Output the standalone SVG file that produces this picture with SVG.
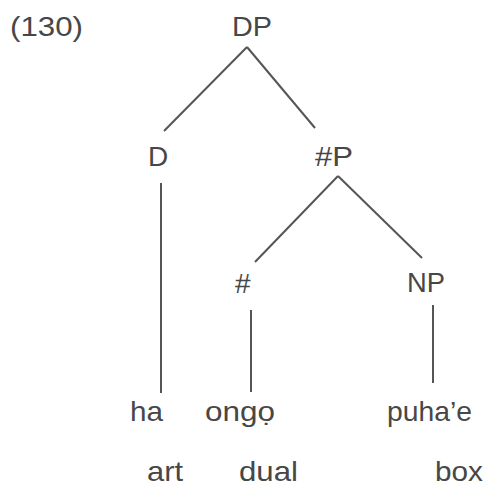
<svg xmlns="http://www.w3.org/2000/svg" width="485" height="488" viewBox="0 0 485 488">
<style>
text { font-family: "Liberation Sans", Arial, sans-serif; font-size: 28px; fill: #474747; }
.edge { stroke: #555555; stroke-width: 2; fill: none; stroke-linecap: butt; }
</style>
<rect width="485" height="488" fill="#ffffff"/>
<text id="label" x="10" y="36" textLength="73" lengthAdjust="spacingAndGlyphs">(130)</text>
<g id="connectors">
  <line class="edge" x1="247" y1="47" x2="164" y2="131"/>
  <line class="edge" x1="247" y1="47" x2="315" y2="128"/>
  <line class="edge" x1="338" y1="176" x2="255" y2="262"/>
  <line class="edge" x1="338" y1="176" x2="422" y2="258"/>
  <line class="edge" x1="161" y1="183" x2="161" y2="393"/>
  <line class="edge" x1="251" y1="310" x2="251" y2="392"/>
  <line class="edge" x1="433" y1="305" x2="433" y2="383"/>
</g>
<g id="node-DP"><text x="232" y="36" textLength="40" lengthAdjust="spacingAndGlyphs">DP</text></g>
<g id="node-D"><text x="148" y="166">D</text></g>
<g id="node-NumP"><text x="315" y="166" textLength="38" lengthAdjust="spacingAndGlyphs">#P</text></g>
<g id="node-Num"><text x="235" y="293">#</text></g>
<g id="node-NP"><text x="407" y="292" textLength="38" lengthAdjust="spacingAndGlyphs">NP</text></g>
<g id="node-ha">
  <text x="130" y="421" textLength="33" lengthAdjust="spacingAndGlyphs">ha</text>
  <text x="147" y="481" textLength="36" lengthAdjust="spacingAndGlyphs">art</text>
</g>
<g id="node-ongo">
  <text x="205" y="421" textLength="70" lengthAdjust="spacingAndGlyphs">ongọ</text>
  <text x="239" y="481" textLength="59" lengthAdjust="spacingAndGlyphs">dual</text>
</g>
<g id="node-puhae">
  <text x="387" y="421" textLength="85" lengthAdjust="spacingAndGlyphs">puha’e</text>
  <text x="435" y="481" textLength="48" lengthAdjust="spacingAndGlyphs">box</text>
</g>
</svg>
